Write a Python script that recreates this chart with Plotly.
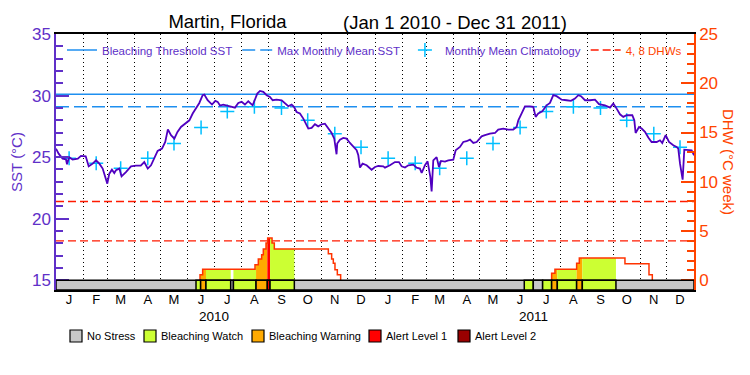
import pandas as pd
import plotly.graph_objects as go

START = pd.Timestamp("2010-01-01")
END = pd.Timestamp("2012-01-01")

# ---- SST (days since 2010-01-01, deg C) ----
sst_day_a = [0, 3, 7.6, 11.4, 12.6, 15, 19, 25, 28.6, 34, 37.4, 42, 45.8, 49.6, 53.4, 56.4, 58.7, 61, 64, 66.7,
             68.6, 72.5, 75, 80, 85.8, 91.5, 97, 101, 105, 108.7, 112.5, 116.3, 121.3, 125, 128, 131.6, 135.4, 139, 143, 148.7,
             152.6, 156.4, 160, 164, 167.8, 169.7, 173.5, 178.5, 182.3, 185, 187.6]
sst_val_a = [25.69, 25.28, 24.88, 24.82, 24.42, 25.0, 24.8, 24.88, 25.1, 25.07, 24.25, 24.47, 24.74, 24.47, 24.07, 23.39, 22.85, 23.66, 23.98, 23.71,
             23.93, 24.07, 23.44, 23.79, 24.25, 24.31, 24.31, 24.6, 24.07, 24.34, 25.0, 25.5, 25.69, 26.23, 27.26, 26.78, 26.5, 27.05, 27.45, 27.78,
             27.99, 28.54, 28.94, 29.4, 30.03, 30.08, 29.62, 29.27, 29.57, 29.49, 29.19]
sst_day_b = [191.4, 199, 204.8, 208.6, 212.4, 216.2, 220, 225, 227.6, 230.3, 233.4, 237.2, 241, 244.8, 247.9, 252.4, 258.2, 262, 265.8, 269.6,
             272.3, 275.3, 279.1, 283, 286, 288.7, 292.5, 296.3, 300, 304, 307.7, 311.6, 315.4, 318.4, 321, 321.8, 324.9, 328.7, 332.5, 336.3,
             340.2, 344, 345.9, 347.8, 350.8, 355.4, 361.1, 365, 368.8, 374.5]
sst_val_b = [29.27, 29.13, 29.02, 29.4, 29.49, 29.27, 29.54, 29.21, 29.62, 30.16, 30.38, 30.3, 30.03, 29.89, 29.62, 29.67, 29.62, 29.4, 29.13, 29.27,
             29.08, 28.67, 28.54, 28.13, 27.72, 27.32, 27.37, 27.67, 27.5, 27.67, 27.72, 27.32, 26.96, 26.5, 25.23, 26.1, 26.42, 26.56, 26.5, 26.15,
             25.83, 25.56, 25.15, 24.15, 24.47, 24.34, 23.98, 24.2, 24.28, 24.25]
sst_day_c = [376.4, 382.1, 387.8, 392.4, 395.5, 399.3, 403.1, 408.8, 412.6, 416.4, 418.4, 422.2, 425.2, 426.7, 428.3, 429.8, 431.7, 435.5, 438.2, 440.5,
             445, 448.9, 454.6, 457.3, 462.2, 466, 469.8, 473.7, 477.5, 481.3, 487, 490.8, 496.5, 502.3, 506, 511.8, 517.5, 523.2, 527, 529,
             532.8, 536.6, 542.3, 546.1, 548.8, 551.8, 556.4, 561.4, 565.2]
sst_val_c = [24.15, 24.34, 24.6, 24.6, 24.25, 24.15, 24.34, 24.39, 24.15, 24.07, 23.71, 24.34, 24.66, 24.15, 23.39, 22.22, 24.74, 25.0, 24.2, 24.69,
             24.63, 24.74, 24.8, 25.56, 25.83, 26.23, 26.29, 26.42, 26.15, 26.23, 26.69, 26.78, 26.91, 26.96, 27.24, 27.32, 27.24, 27.24, 27.45, 27.99,
             28.54, 29.13, 29.13, 29.08, 28.27, 28.54, 28.73, 29.21, 29.4]
sst_day_d = [569, 572.8, 578.6, 584.3, 589.2, 593.8, 597.6, 600.7, 605.3, 611, 616.7, 621.3, 628.1, 633.9, 637.7, 641.5, 645.3, 649.1, 652.9, 659.4,
             661.7, 663.2, 667.1, 670.1, 673.9, 677.7, 681.5, 687.3, 691.1, 693.7, 697.6, 701.4, 706.3, 710.1, 712, 714, 715.9, 717, 718.9, 723.5,
             727.3, 730]
sst_val_d = [30.03, 29.95, 29.67, 29.62, 29.57, 29.76, 30.03, 29.95, 29.62, 29.62, 29.67, 29.3, 29.21, 29.02, 29.35, 28.94, 28.48, 28.27, 28.4, 28.4,
             27.99, 26.96, 27.45, 27.32, 27.05, 26.59, 26.23, 26.23, 26.37, 26.15, 26.78, 26.23, 25.96, 25.83, 25.69, 24.47, 23.79, 23.17, 25.61, 25.61,
             25.56, 25.15]

# ---- Climatology / thresholds ----
clim_sst = [24.9, 24.5, 24.1, 24.9, 26.1, 27.4, 28.7, 29.1, 29.0, 28.0, 26.9, 25.8]
mmm_sst = 29.1
threshold_sst = 30.1
dhw_levels = [4, 8]

# ---- Degree heating weeks (step values, days since 2010-01-01) ----
dhw_2010_day = [164.0, 164.8, 167.8, 227.7, 231.5, 235.3, 237.2, 240.3, 242.2, 247.2, 249.8, 311.6, 315.4, 317.3, 319.2, 321.9, 325.7]
dhw_2010_val = [0.0, 0.55, 1.13, 1.57, 2.15, 2.59, 3.17, 3.78, 4.29, 3.78, 3.17, 2.69, 2.15, 1.74, 1.06, 0.55, 0.0]
dhw_2011_day = [566.5, 567.1, 570.9, 595.7, 598.8, 651.0, 678.5, 682.3]
dhw_2011_val = [0.0, 0.72, 1.13, 1.74, 2.25, 1.67, 0.55, 0.0]

# ---- Bleaching stress levels ----
stress_names = ["No Stress", "Bleaching Watch", "Bleaching Warning", "Alert Level 1", "Alert Level 2"]
stress_colors = ["#C8C8C8", "#CCFF33", "#FFAA00", "#FF0000", "#990000"]
stress_start = [160.2, 165.5, 171.6, 199.9, 203.0, 228.9, 241.8, 244.9, 535.8, 546.1, 556.8, 567.1, 573.6, 595.7, 602.2]
stress_end = [165.5, 171.6, 199.9, 203.0, 228.9, 241.8, 244.9, 272.7, 546.1, 556.8, 567.1, 573.6, 595.7, 602.2, 640.7]
stress_level = [1, 2, 1, 0, 1, 2, 3, 1, 1, 0, 1, 2, 1, 2, 1]

month_letters = ["J", "F", "M", "A", "M", "J", "J", "A", "S", "O", "N", "D"]
years = [2010, 2011]

# ---- styles ----
FONT = "Liberation Sans, Arial, sans-serif"
PURPLE = "#6030C8"
SSTCOL = "#5000C0"
ORANGE = "#FF4400"
BLUE = "#1E8FF0"
CYAN = "#00BFFF"
DHWRED = "#FF1A00"

# page body has an 8px margin; figure placed at (8, 8)
OFF = 8
W, H = 742, 367
ML, MR, MT, MB = 48, 56, 26, 85
PW, PH = W - ML - MR, H - MT - MB

Y_LO, Y_HI = 14.21, 35.0
Y2_LO, Y2_HI = -0.987, 25.0


def to_dates(days):
    return [START + pd.Timedelta(days=float(d)) for d in days]


def px_x(page_x):
    return (page_x - OFF - ML) / PW


def px_y(page_y):
    return (OFF + H - MB - page_y) / PH


sst_day = sst_day_a + sst_day_b + sst_day_c + sst_day_d
sst_val = sst_val_a + sst_val_b + sst_val_c + sst_val_d

dhw_all_day = dhw_2010_day + dhw_2011_day
dhw_all_val = dhw_2010_val + dhw_2011_val


def dhw_at(d):
    v = 0.0
    for dd, vv in zip(dhw_all_day, dhw_all_val):
        if dd <= d:
            v = vv
    return v


fig = go.Figure()

# DHW fills coloured by stress level
for s, e, lvl in zip(stress_start, stress_end, stress_level):
    if lvl == 0:
        continue
    xs = [s] + [d for d in dhw_all_day if s < d < e] + [e]
    ys = [dhw_at(d) for d in xs]
    fig.add_trace(go.Scatter(x=to_dates(xs), y=ys, yaxis="y2", mode="lines",
                             line=dict(width=0, shape="hv"), fill="tozeroy",
                             fillcolor=stress_colors[lvl], showlegend=False, hoverinfo="skip"))

# Threshold lines (legend order)
fig.add_trace(go.Scatter(x=[START, END], y=[threshold_sst] * 2, mode="lines",
                         line=dict(color=BLUE, width=1.5), name="Bleaching Threshold SST", legend="legend"))
fig.add_trace(go.Scatter(x=[START, END], y=[mmm_sst] * 2, mode="lines",
                         line=dict(color=BLUE, width=1.5, dash="13px,5px"), name="Max Monthly Mean SST", legend="legend"))

clim_x = [pd.Timestamp(year=y, month=m, day=16) for y in years for m in range(1, 13)]
clim_y = clim_sst * len(years)
fig.add_trace(go.Scatter(x=clim_x, y=clim_y, mode="markers",
                         marker=dict(symbol="cross-thin", size=10, line=dict(color=CYAN, width=1.5), color=CYAN),
                         name="Monthly Mean Climatology", legend="legend"))

dhw_lx, dhw_ly = [], []
for lv in dhw_levels:
    dhw_lx += [START, END, None]
    dhw_ly += [lv, lv, None]
fig.add_trace(go.Scatter(x=dhw_lx, y=dhw_ly, yaxis="y2", mode="lines",
                         line=dict(color=DHWRED, width=1.4, dash="8px,4px"),
                         name='<span style="color:#FF4400">4, 8 DHWs</span>', legend="legend"))

# SST line
fig.add_trace(go.Scatter(x=to_dates(sst_day), y=sst_val, mode="lines",
                         line=dict(color=SSTCOL, width=1.8), showlegend=False))

# DHW step lines
for dd, vv in [(dhw_2010_day, dhw_2010_val), (dhw_2011_day, dhw_2011_val)]:
    fig.add_trace(go.Scatter(x=to_dates(dd), y=vv, yaxis="y2", mode="lines",
                             line=dict(color="#FF3300", width=1.5, shape="hv"), showlegend=False))

# Stress bar shapes
bar_top = (15 - Y_LO) / (Y_HI - Y_LO)
shapes = [dict(type="rect", xref="x", yref="paper", x0=START, x1=END, y0=0, y1=bar_top,
               fillcolor=stress_colors[0], line=dict(color="black", width=1.5), layer="above")]
for s, e, lvl in zip(stress_start, stress_end, stress_level):
    shapes.append(dict(type="rect", xref="x", yref="paper",
                       x0=START + pd.Timedelta(days=s), x1=START + pd.Timedelta(days=e),
                       y0=0, y1=bar_top, fillcolor=stress_colors[lvl],
                       line=dict(color="black", width=1.5), layer="above"))

annotations = []
# Stress-level key below the chart
key_box_px = [70, 144, 252, 369, 458]
for bx, nm, col in zip(key_box_px, stress_names, stress_colors):
    shapes.append(dict(type="rect", xref="paper", yref="paper",
                       x0=px_x(bx), x1=px_x(bx + 12), y0=px_y(342), y1=px_y(330),
                       fillcolor=col, line=dict(color="black", width=1.2)))
    annotations.append(dict(x=px_x(bx + 15), xref="paper", y=px_y(336), yref="paper", text=nm,
                            showarrow=False, xanchor="left", yanchor="middle",
                            font=dict(size=11, color="black", family=FONT)))

month_ticks = [pd.Timestamp(year=y, month=m, day=16) for y in years for m in range(1, 13)]
month_text = month_letters * len(years)

for y in years:
    annotations.append(dict(x=pd.Timestamp(year=y, month=7, day=1), xref="x", y=px_y(316), yref="paper",
                            text=str(y), showarrow=False, yanchor="middle",
                            font=dict(size=13.5, color="black", family=FONT)))
annotations.append(dict(x=px_x(729), xref="paper", y=px_y(162), yref="paper", text="DHW (°C week)",
                        textangle=90, showarrow=False, xanchor="center", yanchor="middle",
                        font=dict(size=15, color=ORANGE, family=FONT)))
annotations.append(dict(x=px_x(455), xref="paper", y=px_y(22), yref="paper",
                        text="(Jan 1 2010 - Dec 31 2011)", showarrow=False,
                        xanchor="center", yanchor="middle",
                        font=dict(size=18.5, color="black", family=FONT)))

fig.update_layout(
    width=W, height=H,
    margin=dict(l=ML, r=MR, t=MT, b=MB, autoexpand=False),
    paper_bgcolor="white", plot_bgcolor="white",
    font=dict(family=FONT),
    title=dict(text="Martin, Florida",
               x=(227.5 - OFF) / W, xanchor="center", xref="container", y=1 - (22 - OFF) / H, yanchor="middle",
               font=dict(size=18.5, color="black", family=FONT)),
    xaxis=dict(type="date", range=[START, END], tickmode="array", tickvals=month_ticks, ticktext=month_text,
               ticks="", showgrid=False, zeroline=False, showline=True, mirror=True,
               linecolor="black", linewidth=1.5, tickfont=dict(size=13, color="black"),
               ticklabelstandoff=-3,
               minor=dict(dtick="M1", tick0="2010-01-01", showgrid=True, gridcolor="black",
                          griddash="1px,3px", gridwidth=1, ticks="")),
    yaxis=dict(range=[Y_LO, Y_HI], tick0=15, dtick=5, ticks="inside", ticklen=13, tickwidth=1.5,
               tickcolor=PURPLE, showline=True, linecolor=PURPLE, linewidth=1.5,
               showgrid=False, zeroline=False, tickfont=dict(size=17, color=PURPLE),
               minor=dict(dtick=1, tick0=15, ticks="inside", ticklen=7, tickcolor=PURPLE, tickwidth=1.5, showgrid=False),
               title=dict(text="SST (°C)", font=dict(size=15, color=PURPLE), standoff=8)),
    yaxis2=dict(range=[Y2_LO, Y2_HI], overlaying="y", side="right", tick0=0, dtick=5, ticks="inside",
                ticklen=13, tickwidth=1.5, tickcolor=ORANGE, showline=True, linecolor=ORANGE, linewidth=1.5,
                showgrid=False, zeroline=False, tickfont=dict(size=17, color=ORANGE),
                minor=dict(dtick=1, tick0=0, ticks="inside", ticklen=7, tickcolor=ORANGE, tickwidth=1.5, showgrid=False)),
    legend=dict(orientation="h", x=px_x(62), xanchor="left", y=px_y(50), yanchor="middle",
                bgcolor="rgba(0,0,0,0)", font=dict(size=11.5, color=PURPLE, family=FONT),
                itemwidth=30, tracegroupgap=0, borderwidth=0),
    shapes=shapes,
    annotations=annotations,
    showlegend=True,
)

fig.write_html("out.html")
